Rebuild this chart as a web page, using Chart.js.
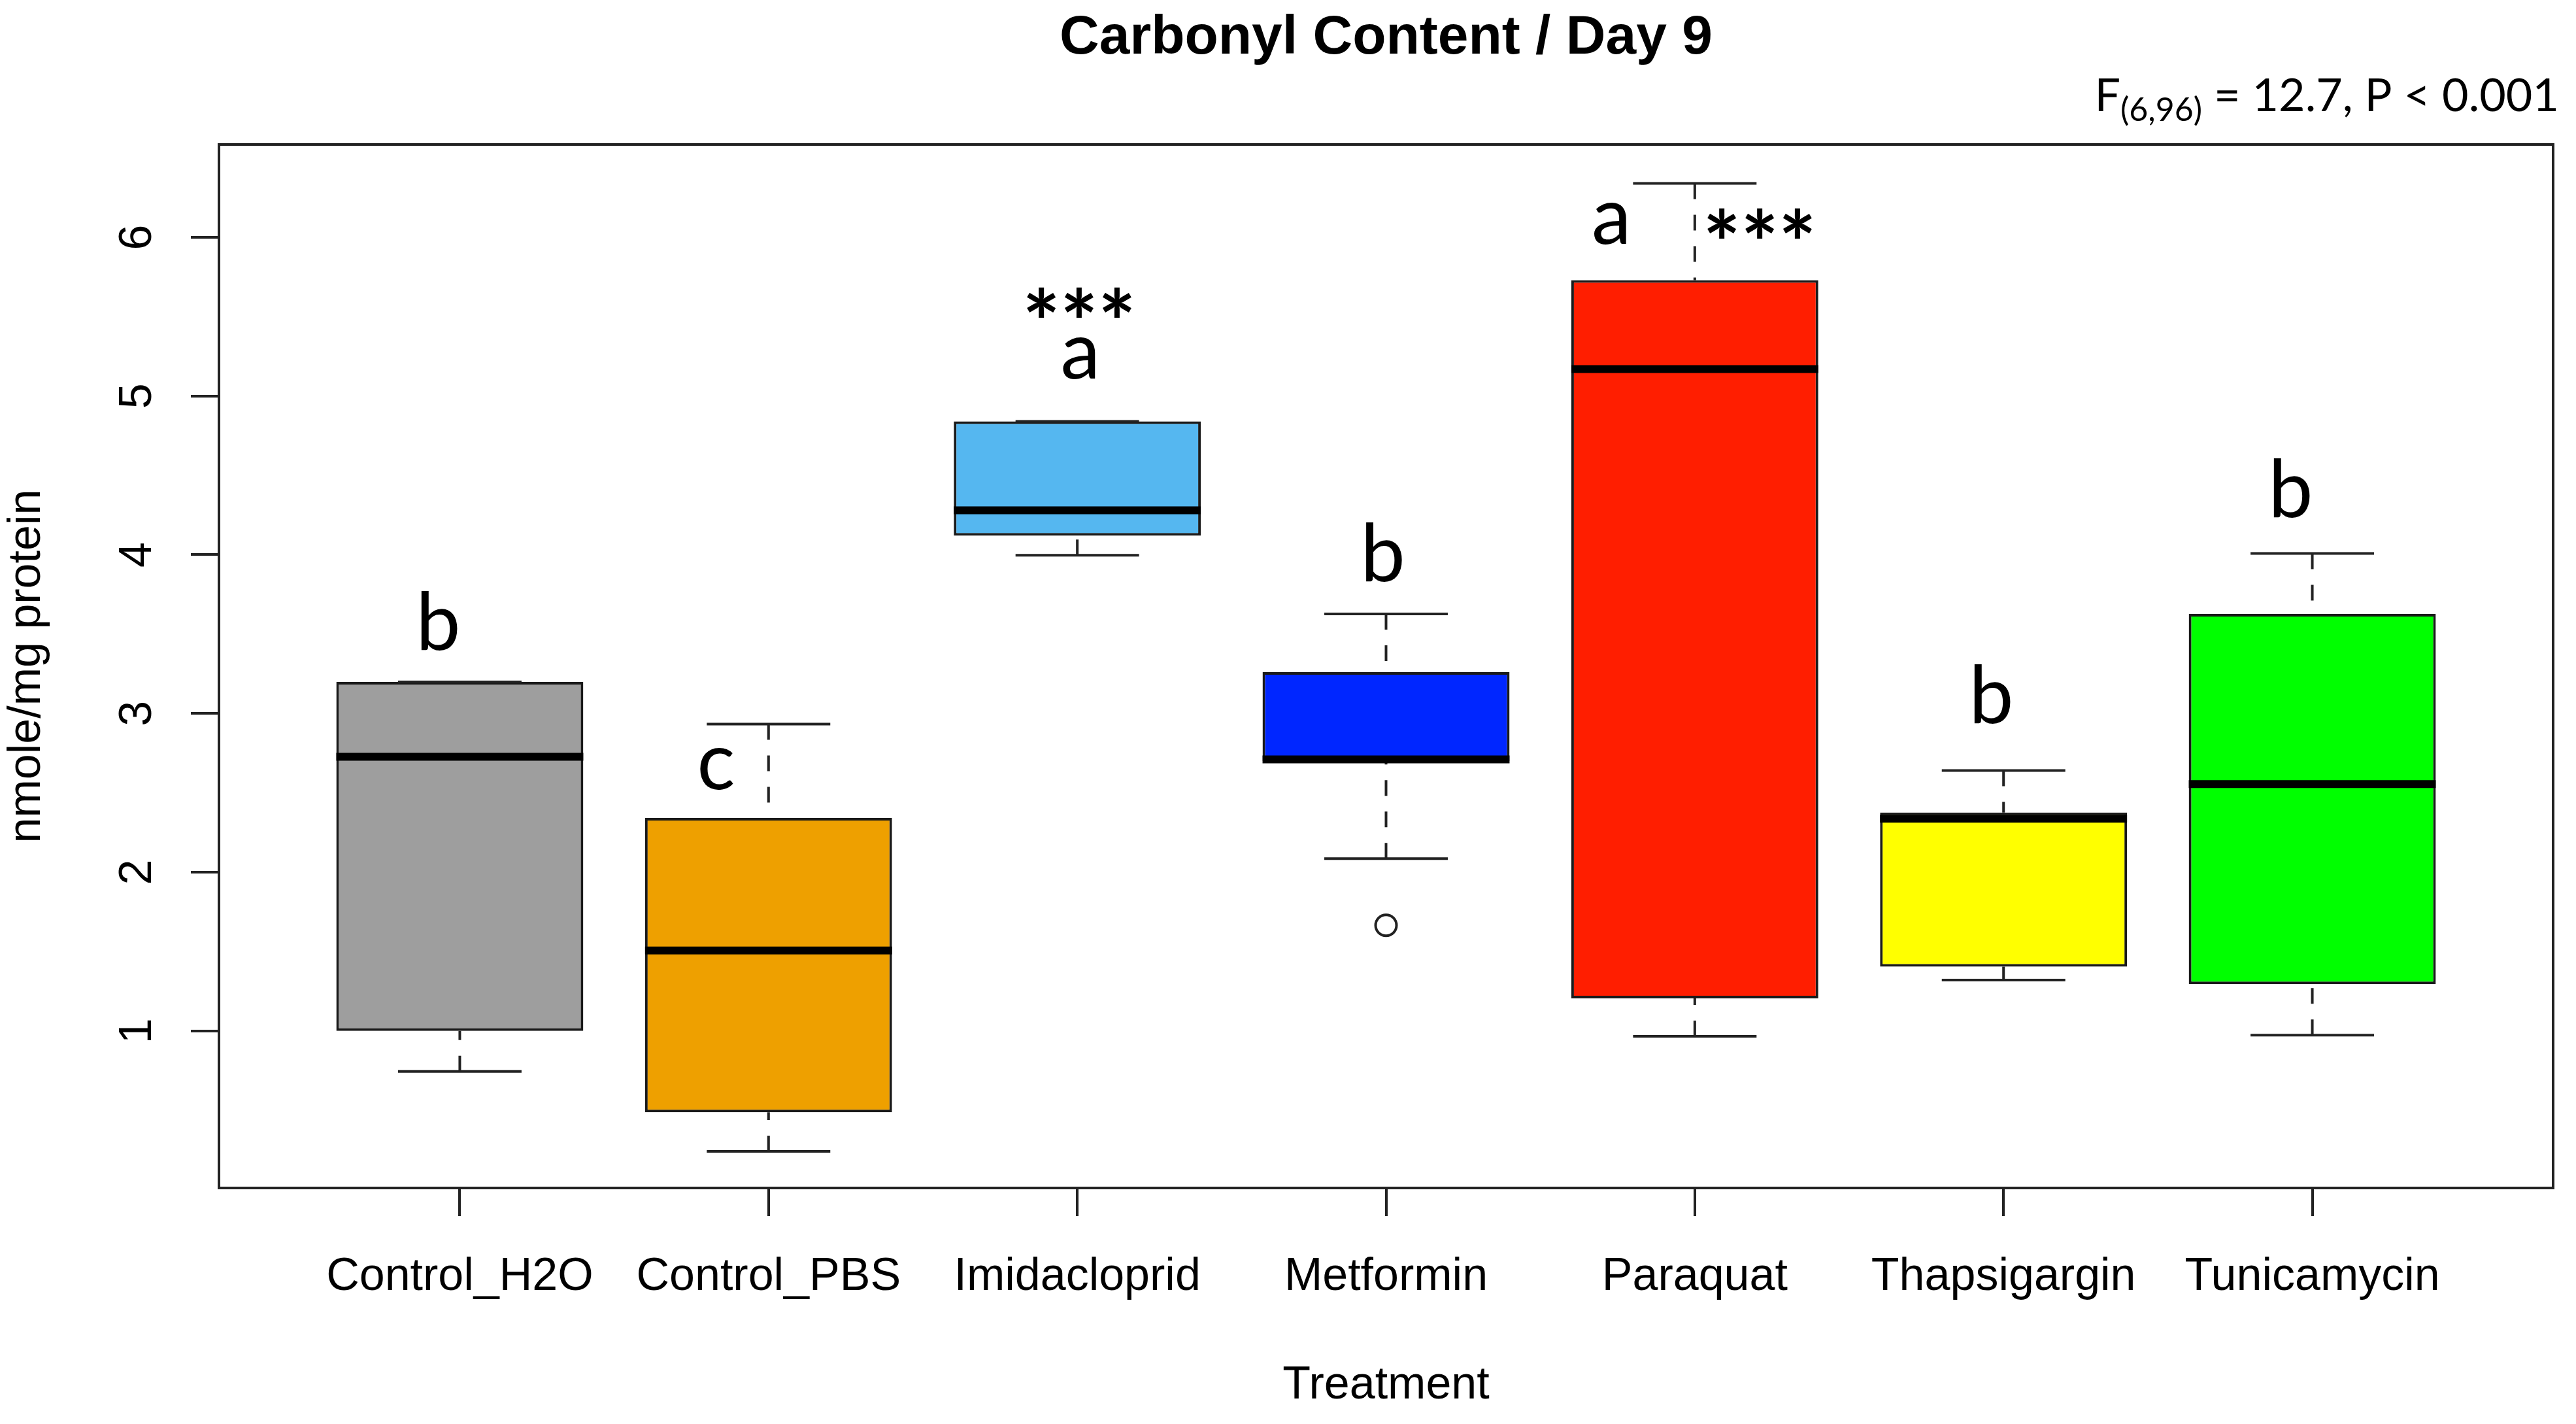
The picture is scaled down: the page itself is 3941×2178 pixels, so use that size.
<!DOCTYPE html>
<html>
<head>
<meta charset="utf-8">
<title>Carbonyl Content / Day 9</title>
<script src="https://cdn.jsdelivr.net/npm/chart.js@4.4.1/dist/chart.umd.min.js"></script>
<style>
  html, body { margin: 0; padding: 0; background: #fff; }
  canvas { display: block; }
</style>
</head>
<body>
<canvas id="myChart" width="3941" height="2178" style="width:3941px;height:2178px"></canvas>
<script>
// treatments, left to right
const categories = ["Control_H2O", "Control_PBS", "Imidacloprid", "Metformin", "Paraquat", "Thapsigargin", "Tunicamycin"];
const positions = [1, 2, 3, 4, 5, 6, 7];

// box plot statistics (nmole/mg protein)
const lowerWhisker = [0.744, 0.241, 3.997, 2.085, 0.966, 1.32, 0.973];
const q1 = [1.0, 0.487, 4.12, 2.70, 1.205, 1.405, 1.294];
const median = [2.727, 1.506, 4.28, 2.71, 5.17, 2.337, 2.555];
const q3 = [3.199, 2.342, 4.84, 3.26, 5.73, 2.376, 3.627];
const upperWhisker = [3.199, 2.933, 4.84, 3.627, 6.34, 2.64, 4.008];

// outliers
const outlierPos = [4];
const outlierValue = [1.665];

const boxColors = ["#9E9E9E", "#EEA000", "#55B7F0", "#0026FF", "#FF1E00", "#FFFF00", "#00FF00"];

// axis ticks
const yTicks = [1, 2, 3, 4, 5, 6];
const yTickLabels = ["1", "2", "3", "4", "5", "6"];

// group letters (x in treatment units, y = baseline in data units)
const letterText = ["b", "c", "a", "b", "a", "b", "b"];
const letterX = [0.93, 1.83, 3.01, 3.99, 4.73, 5.96, 6.93];
const letterY = [3.40, 2.524, 5.11, 3.835, 5.96, 2.94, 4.235];

// significance stars (y = visual centre)
const starText = ["***", "***"];
const starX = [3.006, 5.21];
const starY = [5.59, 6.09];

const titleText = "Carbonyl Content / Day 9";
const statDf = "(6,96)";
const statRest = " = 12.7, P < 0.001";

Chart.defaults.font.family = "'Liberation Sans', Arial, sans-serif";
Chart.defaults.color = "#000";

const boxExtras = {
  id: "boxExtras",
  afterDatasetsDraw(chart) {
    const ctx = chart.ctx;
    const x = chart.scales.x;
    const y = chart.scales.y;
    const bars = chart.getDatasetMeta(0).data;
    ctx.save();
    bars.forEach((bar, i) => {
      const cx = x.getPixelForValue(positions[i]);
      const half = bar.width / 2;
      const capHalf = half / 2;
      const yLo = y.getPixelForValue(lowerWhisker[i]);
      const yHi = y.getPixelForValue(upperWhisker[i]);

      // dashed whiskers
      ctx.strokeStyle = "#222";
      ctx.lineWidth = 4;
      ctx.setLineDash([24, 24]);
      ctx.beginPath();
      ctx.moveTo(cx, yLo);
      ctx.lineTo(cx, y.getPixelForValue(q1[i]));
      ctx.moveTo(cx, yHi);
      ctx.lineTo(cx, y.getPixelForValue(q3[i]));
      ctx.stroke();
      ctx.setLineDash([]);

      // staples
      ctx.beginPath();
      ctx.moveTo(cx - capHalf, yLo);
      ctx.lineTo(cx + capHalf, yLo);
      ctx.moveTo(cx - capHalf, yHi);
      ctx.lineTo(cx + capHalf, yHi);
      ctx.stroke();

      // median
      const ym = y.getPixelForValue(median[i]);
      ctx.strokeStyle = "#000";
      ctx.lineWidth = 12;
      ctx.beginPath();
      ctx.moveTo(cx - half, ym);
      ctx.lineTo(cx + half, ym);
      ctx.stroke();
    });

    // letters
    ctx.fillStyle = "#000";
    ctx.textAlign = "center";
    ctx.textBaseline = "alphabetic";
    ctx.font = "122px Lato";
    letterText.forEach((t, i) => {
      ctx.fillText(t, x.getPixelForValue(letterX[i]), y.getPixelForValue(letterY[i]));
    });

    // stars
    ctx.font = "bold 136px Lato";
    starText.forEach((t, i) => {
      const m = ctx.measureText(t);
      const yc = y.getPixelForValue(starY[i]);
      const base = yc + (m.actualBoundingBoxAscent - m.actualBoundingBoxDescent) / 2;
      ctx.fillText(t, x.getPixelForValue(starX[i]), base);
    });
    ctx.restore();
  },
  afterDraw(chart) {
    const ctx = chart.ctx;
    const area = chart.chartArea;
    ctx.save();
    // plot frame
    ctx.strokeStyle = "#222";
    ctx.lineWidth = 4;
    ctx.strokeRect(area.left, area.top, area.right - area.left, area.bottom - area.top);

    // title
    ctx.fillStyle = "#000";
    ctx.textAlign = "center";
    ctx.textBaseline = "alphabetic";
    ctx.font = "bold 84px 'Liberation Sans', Arial, sans-serif";
    ctx.fillText(titleText, (area.left + area.right) / 2, 82);

    // F statistic, right aligned
    const rightX = 3915;
    ctx.textAlign = "right";
    ctx.font = "70px Lato";
    ctx.fillText(statRest, rightX, 170);
    const restW = ctx.measureText(statRest).width;
    ctx.font = "50px Lato";
    ctx.fillText(statDf, rightX - restW, 185);
    const dfW = ctx.measureText(statDf).width;
    ctx.font = "70px Lato";
    ctx.fillText("F", rightX - restW - dfW, 170);
    ctx.restore();
  }
};

const ctx = document.getElementById("myChart");

const myChart = new Chart(ctx, {
  type: "bar",
  data: {
    datasets: [
      {
        label: "box",
        data: categories.map((c, i) => ({ x: positions[i], y: [q1[i], q3[i]] })),
        backgroundColor: boxColors,
        borderColor: "#1a1a1a",
        borderWidth: 4,
        borderSkipped: false,
        barPercentage: 0.8,
        categoryPercentage: 1.0,
      },
      {
        type: "scatter",
        label: "outliers",
        data: outlierPos.map((p, i) => ({ x: p, y: outlierValue[i] })),
        pointStyle: "circle",
        pointRadius: 16,
        pointBorderWidth: 4,
        pointBorderColor: "#222",
        pointBackgroundColor: "rgba(0,0,0,0)",
      },
    ],
  },
  options: {
    responsive: false,
    devicePixelRatio: 1,
    animation: false,
    layout: { padding: { top: 221, right: 35, left: 0, bottom: 0 } },
    plugins: {
      legend: { display: false },
      tooltip: { enabled: false },
      title: { display: false },
    },
    scales: {
      x: {
        type: "linear",
        min: 0.22,
        max: 7.78,
        offset: false,
        afterBuildTicks: (s) => { s.ticks = positions.map((v) => ({ value: v })); },
        afterFit: (s) => { s.height = 2178 - 1817; },
        ticks: {
          autoSkip: false,
          maxRotation: 0,
          padding: 52,
          font: { size: 70 },
          color: "#000",
          callback: (v) => categories[positions.indexOf(v)],
        },
        grid: { offset: false, drawOnChartArea: false, drawTicks: true, tickLength: 43, lineWidth: 4, color: "#222" },
        border: { display: false },
        title: { display: true, text: "Treatment", font: { size: 70 }, color: "#000", padding: { top: 0, bottom: 16 } },
      },
      y: {
        min: 0.01,
        max: 6.585,
        afterBuildTicks: (s) => { s.ticks = yTicks.map((v) => ({ value: v })); },
        afterFit: (s) => { s.width = 335; },
        ticks: {
          autoSkip: false,
          minRotation: 90,
          maxRotation: 90,
          crossAlign: "center",
          padding: 61,
          font: { size: 70 },
          color: "#000",
          callback: (v) => yTickLabels[yTicks.indexOf(v)],
        },
        grid: { drawOnChartArea: false, drawTicks: true, tickLength: 43, lineWidth: 4, color: "#222" },
        border: { display: false },
        title: { display: true, text: "nmole/mg protein", font: { size: 70 }, color: "#000", padding: { top: 0, bottom: 0 } },
      },
    },
  },
  plugins: [boxExtras],
});
</script>
</body>
</html>
